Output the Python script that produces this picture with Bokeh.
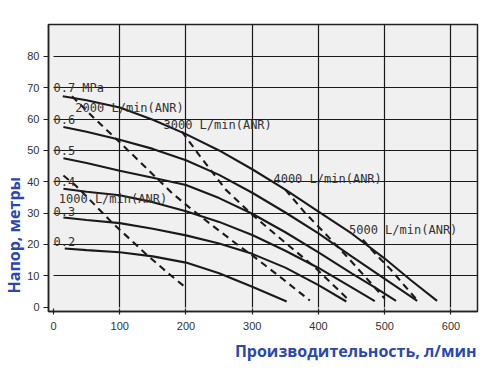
from bokeh.plotting import figure
from bokeh.models import Label, FixedTicker, Range1d, Title
from bokeh.embed import file_html
from bokeh.resources import INLINE

# ---- data ----
x_ticks = [0, 100, 200, 300, 400, 500, 600]
y_ticks = [0, 10, 20, 30, 40, 50, 60, 70, 80]

# pressure curves (solid): flow l/min, head m
p07_x = [14, 50, 100, 150, 200, 250, 300, 350, 400, 450, 500, 540, 579]
p07_y = [67.3, 66.0, 63.7, 59.8, 55.2, 50.0, 44.0, 37.5, 30.5, 23.5, 15.5, 8.5, 2.0]
p06_x = [15, 50, 100, 150, 200, 250, 300, 350, 400, 450, 500, 549]
p06_y = [57.5, 56.0, 53.4, 50.5, 46.9, 42.2, 36.5, 30.2, 23.5, 16.2, 9.0, 2.0]
p05_x = [15, 50, 100, 150, 200, 250, 300, 350, 400, 450, 485, 517]
p05_y = [47.5, 46.0, 43.5, 41.3, 39.0, 34.8, 29.8, 23.9, 17.5, 10.8, 6.3, 2.0]
p04_x = [15, 50, 100, 150, 200, 250, 300, 350, 400, 450, 485]
p04_y = [37.8, 36.8, 35.7, 33.5, 30.6, 27.2, 23.0, 18.0, 12.5, 6.3, 1.9]
p03_x = [15, 50, 100, 150, 200, 250, 300, 350, 400, 442]
p03_y = [28.6, 27.8, 26.8, 25.0, 22.9, 20.3, 17.0, 12.6, 7.0, 1.8]
p02_x = [17, 50, 100, 150, 200, 250, 300, 352]
p02_y = [18.7, 18.2, 17.5, 16.2, 14.2, 10.8, 6.5, 1.8]

# air consumption curves (dashed)
a1000_x = [15, 33, 50, 86, 100, 143, 175, 201]
a1000_y = [42.0, 38.9, 35.3, 27.5, 24.7, 16.3, 10.5, 6.0]
a2000_x = [28, 60, 100, 140, 179, 204, 240, 276, 300, 340, 387]
a2000_y = [67.3, 60.6, 52.6, 44.4, 36.4, 32.0, 26.0, 20.2, 16.5, 10.0, 2.1]
a3000_x = [194, 220, 260, 300, 340, 393, 420, 447]
a3000_y = [56.0, 48.5, 37.5, 29.5, 22.3, 13.0, 7.5, 2.0]
a4000_x = [350, 380, 410, 440, 470, 500]
a4000_y = [37.5, 30.0, 23.5, 16.8, 9.8, 2.7]
a5000_x = [467, 488, 509, 530, 549]
a5000_y = [21.5, 16.5, 12.0, 6.8, 2.2]

pressure_labels = ["0.7 MPa", "0.6", "0.5", "0.4", "0.3", "0.2"]
pressure_label_y = [70, 60, 50, 40, 30.4, 20.8]
flow_labels = ["1000 L/min(ANR)", "2000 L/min(ANR)", "3000 L/min(ANR)",
               "4000 L/min(ANR)", "5000 L/min(ANR)"]
flow_label_x = [8, 33, 166, 332, 446]
flow_label_y = [34.6, 63.7, 58.0, 41.0, 24.7]

x_title = "Производительность, л/мин"
y_title = "Напор, метры"

# ---- figure ----
p = figure(width=495, height=371, output_backend="svg", toolbar_location=None,
           x_range=Range1d(-7.5, 640), y_range=Range1d(-1.4, 90.2),
           min_border_left=48, min_border_right=18, min_border_top=24,
           min_border_bottom=60)
p.background_fill_color = "#f0f0f0"
p.border_fill_color = "white"
p.outline_line_color = "#222222"
p.outline_line_width = 1.5

for ax in (p.xaxis[0], p.yaxis[0]):
    ax.axis_line_color = "#222222"
    ax.axis_line_width = 1.5
    ax.major_tick_line_color = "#222222"
    ax.major_tick_line_width = 1.2
    ax.minor_tick_line_color = None
    ax.major_label_text_font = "Liberation Sans"
    ax.major_label_text_font_size = "11px"
    ax.major_label_text_color = "#333333"
p.xaxis.ticker = FixedTicker(ticks=x_ticks)
p.yaxis.ticker = FixedTicker(ticks=y_ticks)
p.xaxis.major_tick_in = 3
p.xaxis.major_tick_out = 3
p.xaxis.major_label_standoff = 7
p.yaxis.major_tick_in = 0
p.yaxis.major_tick_out = 5
p.yaxis.major_label_standoff = 4

p.xgrid.ticker = FixedTicker(ticks=x_ticks[1:])
p.ygrid.ticker = FixedTicker(ticks=y_ticks[1:])
p.xgrid.cross_bounds = (0, 90.2)
p.ygrid.cross_bounds = (0, 640)
for g in (p.xgrid[0], p.ygrid[0]):
    g.grid_line_color = "#1a1a1a"
    g.grid_line_width = 1.2

solid = [(p07_x, p07_y), (p06_x, p06_y), (p05_x, p05_y),
         (p04_x, p04_y), (p03_x, p03_y), (p02_x, p02_y)]
for xs, ys in solid:
    p.line(xs, ys, line_color="#1a1a1a", line_width=2.1)

dashed = [(a1000_x, a1000_y), (a2000_x, a2000_y), (a3000_x, a3000_y),
          (a4000_x, a4000_y), (a5000_x, a5000_y)]
for xs, ys in dashed:
    p.line(xs, ys, line_color="#1a1a1a", line_width=2.1, line_dash="7 5")

mono = "DejaVu Sans Mono"
for txt, yy in zip(pressure_labels, pressure_label_y):
    p.add_layout(Label(x=0, y=yy, text=txt, text_font=mono, text_font_size="12px",
                       text_color="#333333", text_baseline="middle", text_align="left"))
for txt, xx, yy in zip(flow_labels, flow_label_x, flow_label_y):
    p.add_layout(Label(x=xx, y=yy, text=txt, text_font=mono, text_font_size="12px",
                       text_color="#333333", text_baseline="middle", text_align="left"))

title_color = "#2a48b0"
p.add_layout(Title(text=x_title, align="right", offset=1, standoff=11,
                   text_font="Open Sans", text_font_style="bold", text_font_size="16px",
                   text_color=title_color), "below")
p.add_layout(Title(text=y_title, align="left", offset=18, standoff=0,
                   text_font="Open Sans", text_font_style="bold", text_font_size="16px",
                   text_color=title_color), "left")

open("out.html", "w").write(file_html(p, INLINE))
